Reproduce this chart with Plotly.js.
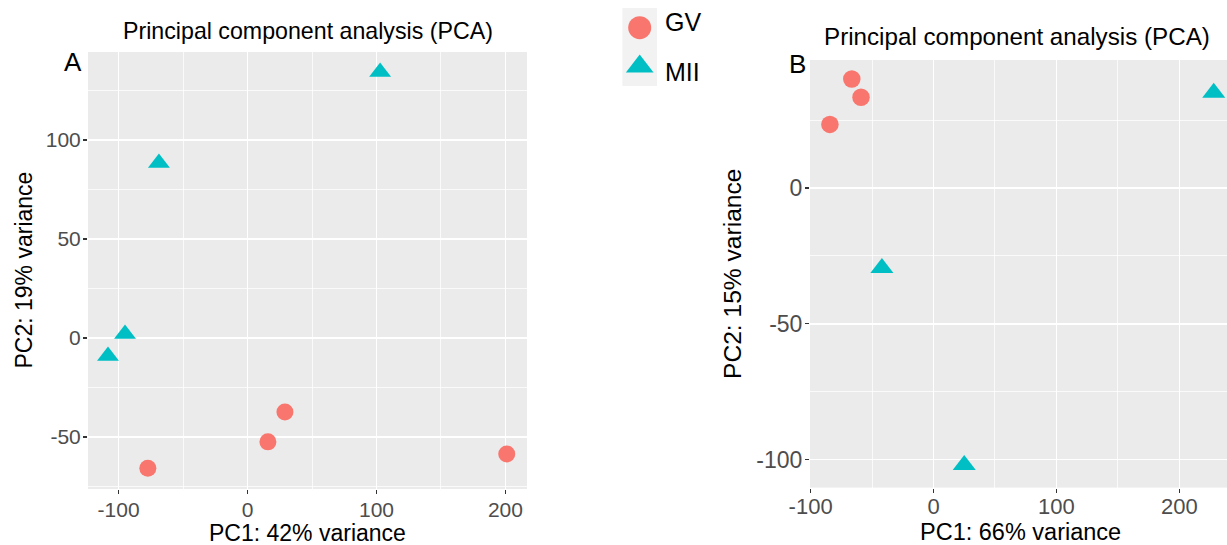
<!DOCTYPE html>
<html><head><meta charset="utf-8">
<script src="https://cdn.plot.ly/plotly-3.0.1.min.js"></script>
<style>html,body{margin:0;padding:0;background:#fff;} #chart{width:1227px;height:545px;}</style>
</head><body><div id="chart"></div>
<script>
// ---- data ----
const groups = ['GV', 'MII'];
const groupColors = ['#F8766D', '#00BFC4'];
const groupSymbols = ['circle', 'triangle-up'];

// Panel A (PC1 42%, PC2 19%)
const aGV_x = [29, 15.8, -77.3, 201];
const aGV_y = [-37.4, -52.5, -65.8, -58.6];
const aMII_x = [102.8, -68.7, -95, -108.2];
const aMII_y = [134.3, 88.4, 2, -9.1];

// Panel B (PC1 66%, PC2 15%)
const bGV_x = [-66.5, -59, -84.3];
const bGV_y = [40.1, 33.4, 23.4];
const bMII_x = [228, -42, 25];
const bMII_y = [35, -29.5, -102];

// tick labels
const aXTickVals = [-100, 0, 100, 200];
const aXTickText = ['-100', '0', '100', '200'];
const aYTickVals = [-50, 0, 50, 100];
const aYTickText = ['-50', '0', '50', '100'];
const bXTickVals = [-100, 0, 100, 200];
const bXTickText = ['-100', '0', '100', '200'];
const bYTickVals = [-100, -50, 0];
const bYTickText = ['-100', '-50', '0'];
const aXMinor = [-50, 50, 150];
const aYMinor = [-75, -25, 25, 75, 125];
const bXMinor = [-50, 50, 150];
const bYMinor = [-75, -25, 25];

const plotTitle = 'Principal component analysis (PCA)';
const aXTitle = 'PC1: 42% variance', aYTitle = 'PC2: 19% variance';
const bXTitle = 'PC1: 66% variance', bYTitle = 'PC2: 15% variance';

// ---- layout helpers ----
const W = 1227, H = 545;
const px = x => x / W;
const py = y => 1 - y / H;
const FONT = 'Liberation Sans, Arial, Helvetica, sans-serif';

function mk(x, y, gi, xa, ya, size) {
  return {
    type: 'scatter', mode: 'markers', x: x, y: y, xaxis: xa, yaxis: ya,
    name: groups[gi], showlegend: false, hoverinfo: 'skip',
    marker: {color: groupColors[gi], symbol: groupSymbols[gi], size: size, opacity: 1, line: {width: 0}},
    cliponaxis: false
  };
}

const traces = [
  mk(aGV_x, aGV_y, 0, 'x', 'y', 17),
  mk(aMII_x, aMII_y, 1, 'x', 'y', 19),
  mk(bGV_x, bGV_y, 0, 'x2', 'y2', 17.5),
  mk(bMII_x, bMII_y, 1, 'x2', 'y2', 20),
  {
    type: 'scatter', mode: 'markers', x: [0.5, 0.5], y: groups, xaxis: 'x3', yaxis: 'y3',
    showlegend: false, hoverinfo: 'skip', cliponaxis: false,
    marker: {color: groupColors, symbol: groupSymbols, size: [23, 24], opacity: 1, line: {width: 0}}
  }
];

function axis(domain, anchor, range, tv, tt, minor, fs) {
  return {
    domain: domain, anchor: anchor, range: range,
    tickmode: 'array', tickvals: tv, ticktext: tt,
    showgrid: true, gridcolor: '#FFFFFF', gridwidth: 1.5,
    zeroline: false, showline: false,
    ticks: 'outside', ticklen: 4, tickwidth: 1.2, tickcolor: '#333333',
    ticklabelstandoff: -2,
    tickfont: {family: FONT, size: fs, color: '#4D4D4D'},
    minor: {tickmode: 'array', tickvals: minor, showgrid: true, gridcolor: '#FFFFFF', gridwidth: 0.75, ticks: ''},
    fixedrange: true
  };
}

function ann(text, x, y, size, extra) {
  return Object.assign({text: text, x: px(x), y: py(y), xref: 'paper', yref: 'paper',
    xanchor: 'center', yanchor: 'middle', showarrow: false,
    font: {family: FONT, size: size, color: '#000'}}, extra || {});
}

const layout = {
  width: W, height: H,
  margin: {l: 0, r: 0, t: 0, b: 0, pad: 0},
  paper_bgcolor: '#FFFFFF', plot_bgcolor: '#EBEBEB',
  showlegend: false,
  font: {family: FONT, color: '#000000'},
  xaxis: axis([px(88), px(527)], 'y', [-123.7, 216.7], aXTickVals, aXTickText, aXMinor, 21),
  yaxis: axis([py(489), py(52)], 'x', [-76.3, 144.4], aYTickVals, aYTickText, aYMinor, 21),
  xaxis2: Object.assign(axis([px(810), 1], 'y2', [-100.5, 238.8], bXTickVals, bXTickText, bXMinor, 22), {ticklabelstandoff: -5}),
  yaxis2: axis([py(487.6), py(60)], 'x2', [-110.3, 47.1], bYTickVals, bYTickText, bYMinor, 23),
  xaxis3: {domain: [px(622.7), px(656.7)], anchor: 'y3', range: [0, 1], visible: false, fixedrange: true},
  yaxis3: {domain: [py(86), py(8.3)], anchor: 'x3', type: 'category', categoryorder: 'array',
           categoryarray: groups, range: [1.5, -0.5], visible: false, fixedrange: true},
  shapes: [
    {type: 'rect', xref: 'x3 domain', yref: 'y3 domain', x0: 0, x1: 1, y0: 0, y1: 1,
     fillcolor: '#F2F2F2', line: {width: 0}, layer: 'below'}
  ],
  annotations: [
    ann(plotTitle, 308, 31, 23.2),
    ann(plotTitle, 1017, 36.5, 24.2),
    ann('A', 73, 62, 26),
    ann('B', 797, 64.5, 26),
    ann(aXTitle, 307.5, 533, 23),
    ann(bXTitle, 1020, 532, 23.5),
    ann(aYTitle, 23, 270.5, 23, {textangle: -90}),
    ann(bYTitle, 732, 274, 24.6, {textangle: -90}),
    ann(groups[0], 663, 22, 25, {xanchor: 'left'}),
    ann(groups[1], 663, 72, 25, {xanchor: 'left'})
  ]
};

Plotly.newPlot('chart', traces, layout, {staticPlot: true, displayModeBar: false});
</script>
</body></html>
